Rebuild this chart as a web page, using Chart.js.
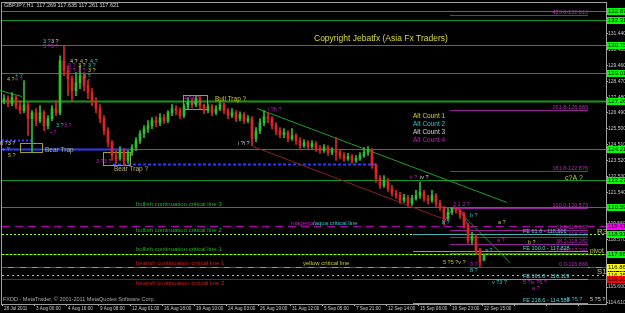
<!DOCTYPE html>
<html>
<head>
<meta charset="utf-8">
<script src="https://cdn.jsdelivr.net/npm/chart.js@4.4.0/dist/chart.umd.min.js"></script>
<style>
  html, body { margin: 0; padding: 0; background: #000; }
</style>
</head>
<body>
<canvas id="gbpChart" width="625" height="313"></canvas>
<script>
// GBPJPY H1 - velas
const dateLabels = ['28 Jul 2011', '3 Aug 00:00', '4 Aug 16:00', '9 Aug 08:00', '12 Aug 01:00', '16 Aug 18:00',
  '19 Aug 10:00', '24 Aug 03:00', '26 Aug 19:00', '31 Aug 12:00', '5 Sep 05:00', '7 Sep 21:00',
  '12 Sep 14:00', '15 Sep 06:00', '19 Sep 23:00', '22 Sep 15:00'];

const yTicks = [131.44, 130.45, 129.46, 128.47, 127.48, 126.49, 125.50, 124.51, 123.52,
  122.53, 121.54, 120.55, 119.56, 118.57, 117.58, 116.59, 115.60, 114.61];

const opens = [127.26,127.38,127.07,127.45,126.95,126.64,127.01,126.14,126.51,126.01,
  126.51,125.70,126.14,126.76,126.51,129.75,129.13,128.63,127.88,128.38,
  128.82,128.20,127.76,127.26,126.76,126.14,125.39,124.64,123.83,123.64,
  124.14,123.52,124.02,124.33,124.77,125.20,125.51,125.70,126.01,125.89,
  126.20,126.01,126.51,126.76,126.64,126.32,126.89,127.20,127.01,127.38,
  126.95,126.64,126.89,126.51,126.76,127.01,126.64,126.32,126.51,126.14,
  126.39,126.01,126.14,124.89,125.39,125.89,126.26,126.14,125.70,125.39,
  125.14,125.27,124.89,125.08,124.77,124.45,124.64,124.39,124.58,124.27,
  124.14,124.33,124.02,124.14,124.02,123.83,123.64,123.77,123.52,123.64,
  123.83,124.02,124.14,123.21,122.40,121.96,122.27,121.77,121.46,121.34,
  121.03,121.21,120.84,121.15,121.34,121.52,121.15,121.03,121.34,120.84,
  120.59,119.90,120.28,120.53,120.40,120.15,119.47,118.53,118.78,117.91,
  117.269];
const highs = [127.63,127.57,127.76,127.57,127.26,128.51,127.14,126.64,126.76,126.95,
  126.64,126.32,126.95,127.26,130.07,130.69,129.44,128.82,129.01,129.44,
  129.01,128.51,128.01,127.45,127.01,126.32,125.58,124.77,124.14,124.39,
  124.27,124.14,124.52,124.95,125.39,125.70,126.01,126.20,126.26,126.45,
  126.39,126.64,127.01,126.95,126.82,127.07,127.45,127.38,127.57,127.51,
  127.07,127.07,127.01,126.95,127.20,127.14,126.76,126.76,126.64,126.57,
  126.51,126.32,126.26,125.58,126.14,126.64,126.51,126.26,125.89,125.58,
  125.51,125.39,125.51,125.20,124.95,124.83,124.77,124.77,124.70,124.45,
  124.52,124.45,124.33,124.95,124.21,124.02,123.96,123.89,123.83,124.02,
  124.33,124.39,124.27,123.33,122.58,122.58,122.40,121.96,121.65,121.52,
  121.40,121.34,121.34,121.65,122.15,121.65,121.34,121.65,121.46,121.03,
  120.66,120.53,120.57,120.52,120.48,120.28,119.59,119.03,118.91,118.03,
  117.635];
const lows = [127.07,126.89,126.95,126.76,126.45,126.51,125.08,124.02,125.70,125.89,
  125.39,125.51,126.01,126.32,126.39,128.82,127.57,127.26,127.57,128.01,
  127.88,127.38,126.95,126.51,125.89,125.14,124.39,123.52,123.33,123.52,
  123.21,123.33,123.83,124.14,124.58,124.95,125.27,125.51,125.64,125.70,
  125.83,125.89,126.32,126.39,126.14,126.20,126.76,126.82,126.89,126.76,
  126.45,126.51,126.32,126.39,126.64,126.45,126.14,126.20,125.95,126.01,
  125.83,125.89,124.45,124.70,125.20,125.70,125.89,125.51,125.14,124.95,
  124.95,124.70,124.77,124.52,124.27,124.33,124.21,124.27,124.08,123.96,
  124.02,123.83,123.89,123.52,123.64,123.46,123.52,123.33,123.40,123.52,
  123.71,123.83,123.02,122.15,121.77,121.84,121.59,121.28,121.15,120.84,
  120.90,120.65,120.71,121.03,121.15,120.96,120.78,120.90,120.65,120.40,
  119.47,119.78,120.15,120.22,119.90,119.28,118.35,118.28,117.66,116.87,
  117.261];
const closes = [127.38,127.07,127.45,126.95,126.64,127.01,126.14,126.51,126.01,126.51,
  125.70,126.14,126.76,126.51,129.75,129.13,128.63,127.88,128.38,128.82,
  128.20,127.76,127.26,126.76,126.14,125.39,124.64,123.83,123.64,124.14,
  123.52,124.02,124.33,124.77,125.20,125.51,125.70,126.01,125.89,126.20,
  126.01,126.51,126.76,126.64,126.32,126.89,127.20,127.01,127.38,126.95,
  126.64,126.89,126.51,126.76,127.01,126.64,126.32,126.51,126.14,126.39,
  126.01,126.14,124.89,125.39,125.89,126.26,126.14,125.70,125.39,125.14,
  125.27,124.89,125.08,124.77,124.45,124.64,124.39,124.58,124.27,124.14,
  124.33,124.02,124.14,124.02,123.83,123.64,123.77,123.52,123.64,123.83,
  124.02,124.14,123.21,122.40,121.96,122.27,121.77,121.46,121.34,121.03,
  121.21,120.84,121.15,121.34,121.52,121.15,121.03,121.34,120.84,120.59,
  119.90,120.28,120.53,120.40,120.15,119.47,118.53,118.78,117.91,117.16,
  117.621];
const emptySlots = 30; // espacio libre a la derecha (shift)

// lineas horizontales
const levelPrices = [132.87, 132.31, 130.75, 129.01, 127.26, 124.21, 122.27, 120.59,
  119.41, 118.91, 117.66, 116.86, 116.35, 116.10];
// fibo (retroceso / extension)
const fibTags = ['423.6', '261.8', '161.8', '100.0', '61.8', '50.0', '38.2', '23.6', '0.0'];
const fibPrices = [132.613, 126.683, 122.876, 120.573, 119.157, 118.720, 118.282, 117.741, 116.866];
const feTags = ['61.8', '100.0', '161.8', '218.6'];
const fePrices = [118.906, 117.828, 116.119, 114.588];

// estilos de cada nivel (mismo orden que levelPrices)
const G = '#149a14';
const levelStyles = [
  { c: G, box: '#00ff00' }, { c: G, box: '#00ff00' }, { c: G, box: '#00ff00' }, { c: G, box: '#00ff00' },
  { c: G, w: 2, box: '#00ff00' }, { c: G, box: '#00ff00' }, { c: G, box: '#00ff00' }, { c: G, box: '#00ff00' },
  { c: '#b000b0', dash: [8, 5], box: '#ff00ff' },
  { c: '#9cff1e', dash: [2, 2], box: '#00ff00' },
  { c: G, over: '#9cff1e', box: '#00ff00' },
  { c: '#a8a800', over: '#d02020', overDash: [6, 6], box: '#ffff00' },
  { c: '#c8c800', dash: [2, 3], box: '#ffff00' },
  { c: '#8c1c1c', box: '#ff0000' }
];

const SMALL = '"Liberation Sans Narrow", "Liberation Sans", Arial, sans-serif';
let gbpChart;

function drawText(ctx, txt, x, y, color, size, align) {
  ctx.save();
  ctx.font = size + 'px "Liberation Sans", Arial, sans-serif';
  ctx.fillStyle = color;
  ctx.textAlign = align || 'left';
  ctx.textBaseline = 'middle';
  ctx.fillText(txt, x, y);
  ctx.restore();
}

function seg(ctx, x1, y1, x2, y2, color, width, dash) {
  ctx.save();
  ctx.strokeStyle = color;
  ctx.lineWidth = width || 1;
  ctx.setLineDash(dash || []);
  ctx.beginPath();
  ctx.moveTo(x1, y1);
  ctx.lineTo(x2, y2);
  ctx.stroke();
  ctx.restore();
}

// Objetos de MetaTrader: niveles, canales, cajas y textos
const overlayPlugin = {
  id: 'mt4Objects',
  beforeDraw(chart) {
    const ctx = chart.ctx;
    ctx.save();
    ctx.fillStyle = '#000';
    ctx.fillRect(0, 0, chart.width, chart.height);
    ctx.restore();
  },
  beforeDatasetsDraw(chart) {
    const ctx = chart.ctx;
    const a = chart.chartArea;
    const X = i => chart.scales.x.getPixelForValue(i);
    const Y = p => Math.round(chart.scales.y.getPixelForValue(p)) + 0.5;

    // marco
    ctx.save();
    ctx.strokeStyle = '#a0a0a0';
    ctx.strokeRect(a.left - 0.5, a.top - 0.5, a.right - a.left + 1, a.bottom - a.top + 1);
    ctx.restore();

    // niveles horizontales
    levelPrices.forEach((p, k) => {
      const s = levelStyles[k];
      seg(ctx, a.left, Y(p), a.right, Y(p), s.c, s.w || 1, s.dash);
      if (s.over) seg(ctx, a.left, Y(p), a.right, Y(p), s.over, 1, s.overDash || [2, 2]);
    });

    // lineas azules a la izquierda
    seg(ctx, X(-0.5), Y(124.21), X(31.5), Y(124.21), '#2a3cff', 2);
    seg(ctx, X(-0.5), Y(124.77), X(7), Y(124.77), '#2a3cff', 2, [2, 2]);
    seg(ctx, X(27.25), Y(123.33), X(93.5), Y(123.33), '#2a3cff', 2, [3, 2]);

    // canal bajista
    seg(ctx, X(63.25), Y(126.82), X(125.75), Y(120.90), '#1ea01e', 1);
    seg(ctx, X(62.25), Y(124.45), X(110.25), Y(119.84), '#8c2020', 1);
    seg(ctx, X(114), Y(120.28), X(126.5), Y(117.16), '#1ea01e', 1);
    seg(ctx, X(-1), Y(127.95), X(4.5), Y(127.57), '#1ea01e', 1);

    // retrocesos fibo
    fibPrices.forEach((p, k) => {
      const y = Y(p);
      seg(ctx, X(111.5), y, X(146), y, '#961e96', 1);
      drawText(ctx, fibTags[k] + '-' + p.toFixed(3), X(146), y - 3, '#b428b4', 5.5, 'right');
    });
    fePrices.forEach((p, k) => {
      const y = Y(p);
      seg(ctx, X(102.25), y, X(146), y, '#48b4b4', 1);
      drawText(ctx, 'FE ' + feTags[k] + ' - ' + p.toFixed(3), X(129.75), y - 3, '#5ad2d2', 5.5);
    });

    // zigzag de ondas
    ctx.save();
    ctx.strokeStyle = '#b41eb4';
    ctx.beginPath();
    ctx.moveTo(X(109.75), Y(119.59));
    ctx.lineTo(X(112.5), Y(120.65));
    ctx.lineTo(X(114.5), Y(120.34));
    ctx.lineTo(X(116.5), Y(119.10));
    ctx.stroke();
    ctx.restore();

    // cajas de trampas
    const box = (i1, p1, i2, p2) => {
      ctx.save();
      ctx.strokeStyle = '#a0a028';
      ctx.strokeRect(Math.round(X(i1)) + 0.5, Y(p1), X(i2) - X(i1), Y(p2) - Y(p1));
      ctx.restore();
    };
    box(4, 124.64, 9.5, 124.02);
    box(24.75, 124.02, 31.5, 123.21);
    box(44.75, 127.63, 50.75, 126.76);
  },
  afterDraw(chart) {
    const ctx = chart.ctx;
    const a = chart.chartArea;
    const Y = p => chart.scales.y.getPixelForValue(p);

    // etiquetas de precio a la derecha
    levelPrices.forEach((p, k) => {
      const y = Math.round(Y(p));
      ctx.save();
      ctx.fillStyle = levelStyles[k].box;
      ctx.fillRect(a.right + 1, y - 3, 19, 7);
      ctx.restore();
      drawText(ctx, p.toFixed(3), a.right + 2, y + 0.5, '#000', 6);
    });

    // textos de las lineas criticas
    drawText(ctx, 'bullish continuation critical line 3', 136, Y(120.59) - 3, '#1eb41e', 6);
    drawText(ctx, 'magenta', 291, Y(119.41) - 3, '#c81ec8', 6);
    drawText(ctx, '/aqua critical line', 313, Y(119.41) - 3, '#28c8c8', 6);
    drawText(ctx, 'bullish continuation critical line 2', 136, Y(118.91) - 4, '#1eb41e', 6);
    drawText(ctx, 'bullish continuation critical line 1', 136, Y(117.66) - 5, '#1eb41e', 6);
    drawText(ctx, 'bearish continuation critical line 1', 136, Y(116.86) - 4, '#c81e1e', 6);
    drawText(ctx, 'yellow critical line', 303, Y(116.86) - 4, '#c8c81e', 6);
    drawText(ctx, 'bearish continuation critical line 2', 136, Y(116.10) + 4, '#c81e1e', 6);

    drawText(ctx, 'Copyright Jebatfx (Asia Fx Traders)', 314, 39, '#dcdc28', 8.5);
    drawText(ctx, 'GBPJPY,H1  117.269 117.635 117.261 117.621', 4, 5, '#d2d2d2', 5.5);
    drawText(ctx, 'FXDD - MetaTrader, \u00a9 2001-2011 MetaQuotes Software Corp.', 3, 299, '#a8a8a8', 5.5);

    drawText(ctx, 'Alt Count 1', 413, 116, '#d2d21e', 6.5);
    drawText(ctx, 'Alt Count 2', 413, 124, '#28c8c8', 6.5);
    drawText(ctx, 'Alt Count 3', 413, 132, '#d2d2d2', 6.5);
    drawText(ctx, 'Alt Count 4', 413, 140, '#c81ec8', 6.5);

    drawText(ctx, 'Bull Trap ?', 215, 99, '#c8c828', 6.5);
    drawText(ctx, 'Bear Trap', 45, 150, '#b4b478', 6.5);
    drawText(ctx, 'Bear Trap ?', 114, 169, '#b4b478', 6.5);
    drawText(ctx, 'c?A ?', 565, 178, '#c8c828', 7);
    drawText(ctx, 'R3', 597, 232, '#c8c850', 8);
    drawText(ctx, 'pivot', 590, 251, '#c8c850', 6.5);
    drawText(ctx, 'S1', 597, 272, '#c8c850', 8);

    // conteos de ondas
    const M = '#c81ec8', C = '#28c8c8', Yl = '#c8c81e', W = '#d2d2d2';
    const waves = [
      [43, 41, '3 ?', C], [51, 41, '3 ?', W], [43, 46, '3 ?3 ?', M],
      [70, 61, '4 ?', W], [80, 61, '4 ?', Yl], [90, 61, '4 ?', C],
      [68, 65, '5 ?', M], [78, 65, '3 ?', Yl], [88, 65, '3 ?', C],
      [68, 70, '2 ?', M], [78, 70, '3 ?', M], [88, 70, '3 ?', Yl],
      [83, 76, '3 ?', C], [83, 81, '2 ?', M],
      [7, 79, '4 ?', Yl], [15, 79, '4 ?', M], [15, 75, '+ ?', C],
      [56, 125, '3 ?', C], [64, 125, '3 ?', M], [50, 132, '\u2022 ?', M],
      [0, 143, '0 ?3 ?', W], [2, 149, '+ ?', C], [8, 155, '5 ?', Yl],
      [96, 161, '3 ?3 ?', M],
      [184, 98, '4 ?4 ?', M], [186, 103, '4 ?4 ?', C],
      [268, 109, 'i ?b ?', M], [238, 143, 'i ?i ?', W],
      [410, 177, 'ii ?', M], [420, 177, 'iv ?', W],
      [453, 204, '2 1 2 ?', M], [470, 215, 'b ?', C], [442, 222, 'b ?', C],
      [498, 222, 'a ?', Yl], [528, 242, 'b ?', Yl], [497, 240, 'a ?', M], [485, 250, 'a ?', C],
      [443, 262, '5 ?5 ?v ?', Yl], [470, 264, '0 ?', M], [470, 270, '8 ?', C],
      [492, 282, 'v ?3 ?', C], [523, 282, '5 ?iv ?5 ?', M], [532, 288, 'a ?', M],
      [567, 299, '5 ?5 ?', C], [590, 299, '5 ?5 ?', W]
    ];
    waves.forEach(w => drawText(ctx, w[2], w[0], w[1], w[3], 5.5));
  }
};

function generateChart() {
  const n = closes.length;
  const slots = [];
  for (let i = 0; i < n + emptySlots; i++) slots.push(i);

  const upColor = '#28c428';
  const downColor = '#e02424';
  const colors = closes.map((c, i) => (c >= opens[i] ? upColor : downColor));

  gbpChart = new Chart(document.getElementById('gbpChart'), {
    type: 'bar',
    data: {
      labels: slots,
      datasets: [
        {
          label: 'wicks',
          data: highs.map((h, i) => [lows[i], h]),
          backgroundColor: colors,
          barThickness: 1,
          grouped: false,
          order: 2
        },
        {
          label: 'bodies',
          data: opens.map((o, i) => [o, closes[i]]),
          backgroundColor: colors,
          barThickness: 2,
          minBarLength: 1,
          grouped: false,
          order: 1
        }
      ]
    },
    options: {
      responsive: false,
      animation: false,
      devicePixelRatio: 1,
      layout: { padding: { left: 2, top: 2, right: 0, bottom: 0 } },
      plugins: {
        legend: { display: false },
        tooltip: { enabled: false }
      },
      scales: {
        x: {
          offset: true,
          grid: {
            drawOnChartArea: false,
            tickLength: 2,
            color: c => (c.index % 8 === 0 ? '#b4b4b4' : 'rgba(0,0,0,0)')
          },
          border: { color: '#a0a0a0' },
          ticks: {
            autoSkip: false,
            maxRotation: 0,
            minRotation: 0,
            padding: 0,
            align: 'start',
            labelOffset: 0,
            color: '#c8c8c8',
            font: { family: SMALL, size: 4.6 },
            callback: (v, i) => (i % 8 === 0 ? (dateLabels[i / 8] || '') : '')
          },
          afterFit: s => { s.height = 9; }
        },
        y: {
          position: 'right',
          min: 114.543,
          max: 133.369,
          afterBuildTicks: s => { s.ticks = yTicks.map(v => ({ value: v })); },
          grid: { drawOnChartArea: false, tickLength: 2, color: '#b4b4b4' },
          border: { color: '#a0a0a0' },
          ticks: {
            padding: 0,
            color: '#c8c8c8',
            font: { family: SMALL, size: 5 },
            callback: v => v.toFixed(3)
          },
          afterFit: s => { s.width = 19; }
        }
      }
    },
    plugins: [overlayPlugin]
  });
}

document.addEventListener('DOMContentLoaded', () => {
  generateChart();
});
</script>
</body>
</html>
